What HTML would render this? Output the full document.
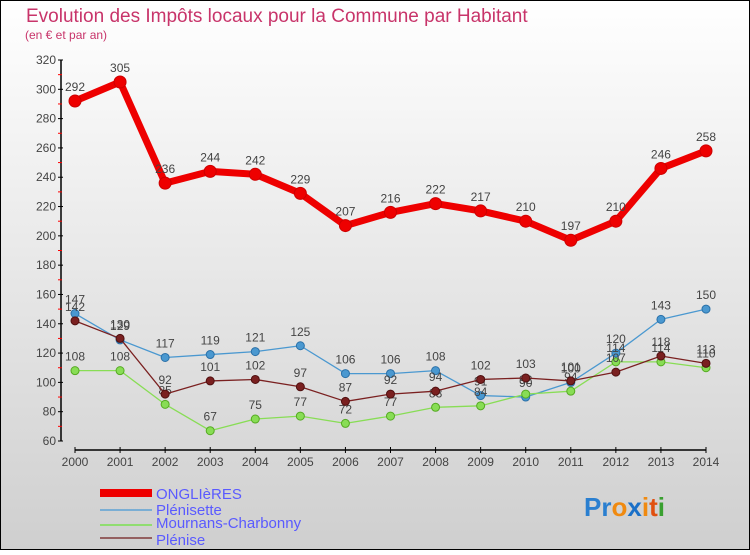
<!DOCTYPE html>
<html><head><meta charset="utf-8"><style>
html,body{margin:0;padding:0;}
body{width:750px;height:550px;overflow:hidden;font-family:"Liberation Sans",sans-serif;}
svg text{font-family:"Liberation Sans",sans-serif;}
</style></head><body>
<svg id="chart" width="750" height="550" viewBox="0 0 750 550" xmlns="http://www.w3.org/2000/svg">
<defs><linearGradient id="bg" x1="0" y1="0" x2="0" y2="1"><stop offset="0" stop-color="#ffffff"/><stop offset="1" stop-color="#cfcfcf"/></linearGradient></defs>
<rect x="0.5" y="0.5" width="749" height="549" fill="url(#bg)" stroke="#000"/>
<text x="26" y="22" font-size="19" fill="#c8346a">Evolution des Impôts locaux pour la Commune par Habitant</text>
<text x="25" y="39" font-size="12" fill="#c8346a">(en € et par an)</text>
<g id="axes"></g>
<g id="series"></g>
<g id="legend">
<rect x="100" y="489" width="52" height="8" fill="#e00"/>
<text x="156" y="499" font-size="15" fill="#5a5aff">ONGLIèRES</text>
<line x1="100" y1="510" x2="152" y2="510" stroke="#7aaed4" stroke-width="2"/>
<text x="156" y="515" font-size="15" fill="#5a5aff">Plénisette</text>
<line x1="100" y1="525" x2="152" y2="525" stroke="#90dd70" stroke-width="2"/>
<text x="156" y="528" font-size="15" fill="#5a5aff">Mournans-Charbonny</text>
<line x1="100" y1="538" x2="152" y2="538" stroke="#946060" stroke-width="2"/>
<text x="156" y="545" font-size="15" fill="#5a5aff">Plénise</text>
</g>
<g font-size="26" font-weight="bold">
<text x="584" y="516"><tspan fill="#2a7fd0">Pr</tspan><tspan fill="#f08a10">o</tspan><tspan fill="#1a70c8">x</tspan><tspan fill="#f08a10">i</tspan><tspan fill="#e05010">t</tspan><tspan fill="#3aa030">i</tspan></text>
</g>
</svg>
<script>
const years=[2000,2001,2002,2003,2004,2005,2006,2007,2008,2009,2010,2011,2012,2013,2014];
const yTicks=[60,80,100,120,140,160,180,200,220,240,260,280,300,320];
const onglieres=[292,305,236,244,242,229,207,216,222,217,210,197,210,246,258];
const plenisette=[147,129,117,119,121,125,106,106,108,91,90,100,120,143,150];
const mournans=[108,108,85,67,75,77,72,77,83,84,92,94,114,114,110];
const plenise=[142,130,92,101,102,97,87,92,94,102,103,101,107,118,113];
const NS="http://www.w3.org/2000/svg";
function xs(i){return 75+i*(706-75)/(years.length-1);}
function ys(v){return 441-(v-60)*(441-60)/260;}
function mk(t,a,p){const e=document.createElementNS(NS,t);for(const k in a)e.setAttribute(k,a[k]);p.appendChild(e);return e;}
const ax=document.getElementById('axes');
const yl=mk('line',{x1:61,y1:60,x2:61,y2:441,stroke:'#000','stroke-width':1.5},ax);


yTicks.forEach(v=>{
 const y=ys(v);
 mk('line',{x1:58,y1:y,x2:63,y2:y,stroke:'#000'},ax);
 if(v<320) mk('line',{x1:58,y1:ys(v+10),x2:62,y2:ys(v+10),stroke:'#f00'},ax);
 const t=mk('text',{x:56,y:y+4,'font-size':12,fill:'#444','text-anchor':'end'},ax);
 t.textContent=v;
 
 
});
const xl=mk('line',{x1:75,y1:450,x2:706,y2:450,stroke:'#000','stroke-width':1.5},ax);


years.forEach((yr,i)=>{
 mk('line',{x1:xs(i),y1:447,x2:xs(i),y2:453,stroke:'#000'},ax);
 const t=mk('text',{x:xs(i),y:466,'font-size':12,fill:'#444','text-anchor':'middle'},ax);
 t.textContent=yr;
 
 
});
const sg=document.getElementById('series');
function draw(vals,color,dark,w,r,name){
 const g=mk('g',{},sg);
 
 
 const pl=mk('polyline',{points:vals.map((v,i)=>xs(i)+','+ys(v)).join(' '),fill:'none',stroke:color,'stroke-width':w,'stroke-linejoin':'round'},g);
 
 
 vals.forEach((v,i)=>{
  const c=mk('circle',{cx:xs(i),cy:ys(v),r:r,fill:color,stroke:dark,'stroke-width':1},g);
  
  
  const t=mk('text',{x:xs(i),y:ys(v)-10,'font-size':12,fill:'#444','text-anchor':'middle'},g);
  t.textContent=v;
  
  
 });
}
draw(plenisette,'#4a98d0','#2a70a8',1.3,4,'plenisette');
draw(mournans,'#88dd55','#55aa22',1.3,4,'mournans');
draw(plenise,'#7a2020','#501010',1.3,4,'plenise');
draw(onglieres,'#ee0000','#cc0000',7,6,'onglieres');
</script>
</body></html>
